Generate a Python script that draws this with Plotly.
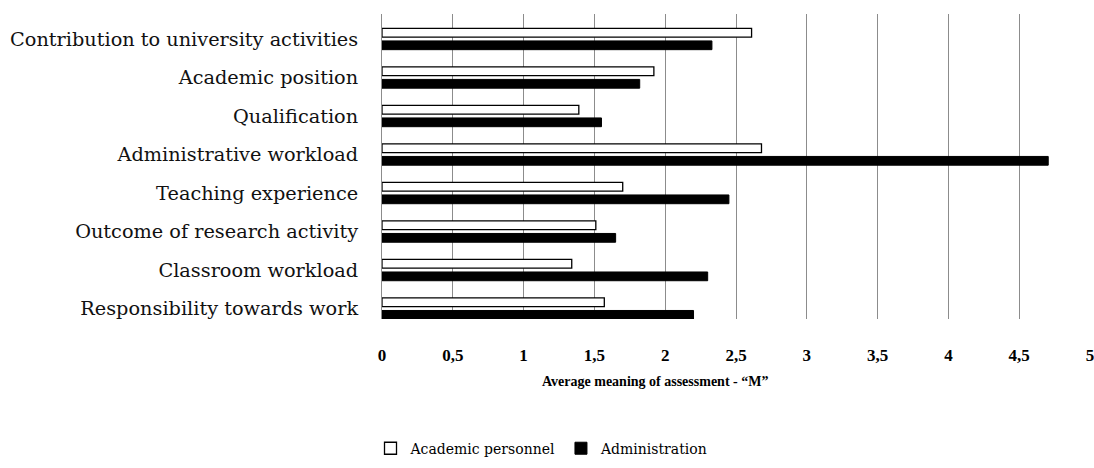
import plotly.graph_objects as go

categories = [
    "Contribution to university activities",
    "Academic position",
    "Qualification",
    "Administrative workload",
    "Teaching experience",
    "Outcome of research activity",
    "Classroom workload",
    "Responsibility towards work",
]
academic = [2.61, 1.92, 1.39, 2.68, 1.70, 1.51, 1.34, 1.57]
administration = [2.33, 1.82, 1.55, 4.705, 2.45, 1.65, 2.30, 2.20]
tick_vals = [0, 0.5, 1, 1.5, 2, 2.5, 3, 3.5, 4, 4.5, 5]
tick_text = ["0", "0,5", "1", "1,5", "2", "2,5", "3", "3,5", "4", "4,5", "5"]
x_title = "Average meaning of assessment - \u201cM\u201d"

SERIF = "DejaVu Serif"
TIMES = "Liberation Serif"

fig = go.Figure()
fig.add_trace(go.Bar(
    y=categories, x=academic, orientation="h", name="Academic personnel",
    marker=dict(color="white", line=dict(color="black", width=1.3)),
))
fig.add_trace(go.Bar(
    y=categories, x=administration, orientation="h", name="Administration",
    marker=dict(color="black", line=dict(color="black", width=1)),
))

fig.update_layout(
    width=1094, height=468,
    margin=dict(l=382, r=4, t=14, b=145),
    paper_bgcolor="white", plot_bgcolor="white",
    barmode="group", bargap=0.35, bargroupgap=0.3,
    font=dict(family=SERIF, color="black"),
    xaxis=dict(
        range=[0, 5], tickvals=tick_vals, ticktext=tick_text,
        automargin=False, ticklabeloverflow="allow",
        showgrid=True, gridcolor="#8c8c8c", gridwidth=1,
        zeroline=False, showline=False,
        ticks="outside", ticklen=21, tickcolor="rgba(0,0,0,0)",
        tickfont=dict(family=TIMES, size=17, color="black", weight="bold"),
    ),
    yaxis=dict(
        range=[7.27, -0.65], showgrid=False, zeroline=False, automargin=False,
        showline=True, linecolor="#8c8c8c", linewidth=1,
        ticks="outside", ticklen=19, tickcolor="rgba(0,0,0,0)",
        tickfont=dict(family=SERIF, size=19.3, color="#111111"),
    ),
    legend=dict(
        orientation="h", x=0.226, xanchor="center", y=-0.425, yanchor="middle",
        font=dict(family=SERIF, size=14, color="black"),
        itemwidth=30, traceorder="normal",
    ),
    annotations=[dict(
        text=x_title, xref="paper", yref="paper", x=0.385, y=-0.204,
        xanchor="center", yanchor="middle", showarrow=False,
        font=dict(family=TIMES, size=14, color="black", weight="bold"),
    )],
)

fig.write_html(
    "out.html",
    config={"displayModeBar": False},
    post_script="document.body.style.margin='0';document.body.style.overflow='hidden';",
)
